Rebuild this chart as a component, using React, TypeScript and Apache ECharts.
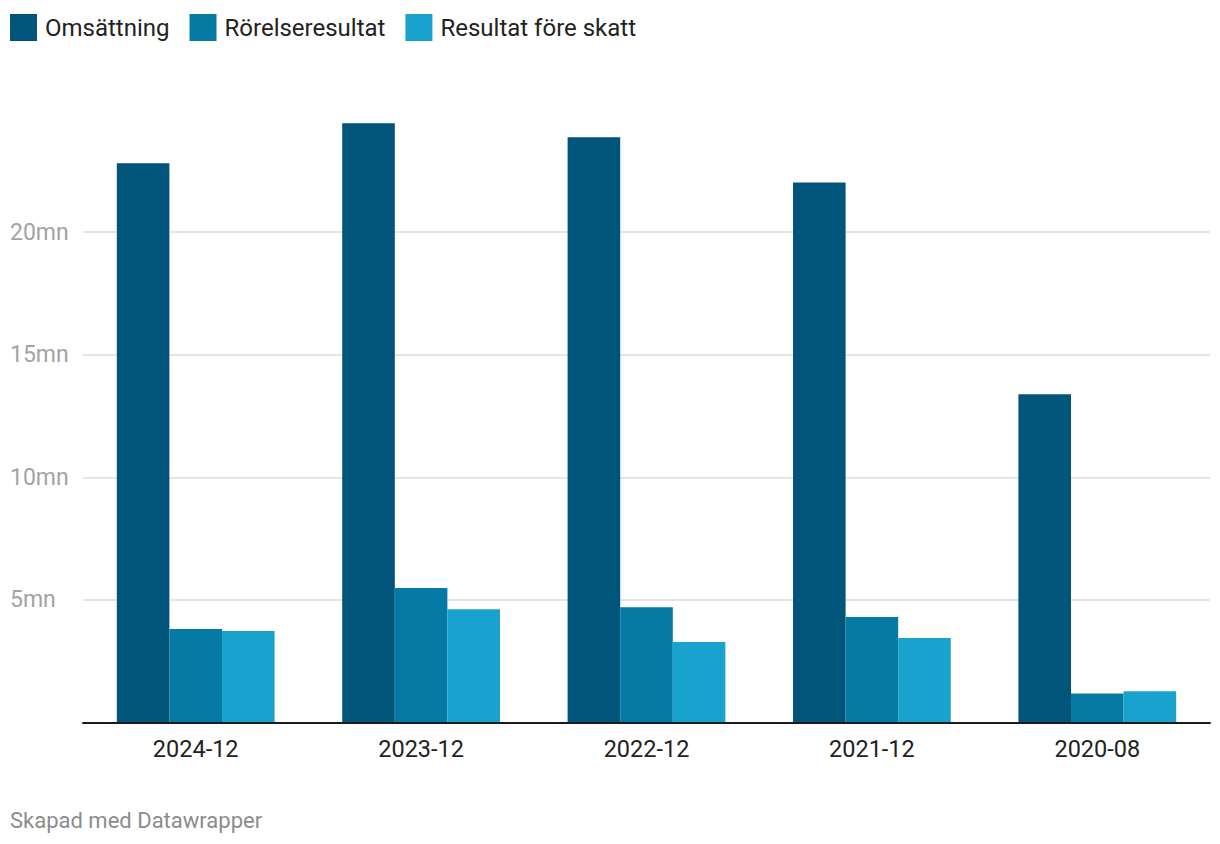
import React, { useEffect, useRef } from "react";
import * as echarts from "echarts";

const categories = ["2024-12", "2023-12", "2022-12", "2021-12", "2020-08"];
const omsattning = [22.82, 24.45, 23.88, 22.03, 13.39];
const rorelseresultat = [3.81, 5.48, 4.7, 4.3, 1.18];
const resultatForeSkatt = [3.73, 4.62, 3.28, 3.44, 1.27];
const seriesNames = ["Omsättning", "Rörelseresultat", "Resultat före skatt"];
const colors = ["#01547a", "#047aa4", "#1aa2cf"];

const FONT = "Roboto, 'Noto Sans', sans-serif";

export default function App() {
  const ref = useRef<HTMLDivElement>(null);
  useEffect(() => {
    if (!ref.current) return;
    const chart = echarts.init(ref.current, undefined, { renderer: "svg" });
    const data = [omsattning, rorelseresultat, resultatForeSkatt];
    chart.setOption({
      animation: false,
      backgroundColor: "#ffffff",
      textStyle: { fontFamily: FONT },
      legend: {
        left: 10,
        top: 14,
        padding: 0,
        icon: "rect",
        itemWidth: 27,
        itemHeight: 27,
        itemGap: 20,
        selectedMode: false,
        textStyle: {
          fontFamily: FONT,
          fontSize: 24,
          color: "#222222",
          padding: [0, 0, 0, 3],
        },
        data: seriesNames,
      },
      grid: {
        left: 83,
        right: 10,
        top: 109.7,
        bottom: 121.6,
        containLabel: false,
      },
      xAxis: {
        type: "category",
        data: categories,
        axisLine: { show: true, lineStyle: { color: "#1a1a1a", width: 2 } },
        axisTick: { show: false },
        axisLabel: {
          fontFamily: FONT,
          fontSize: 23.5,
          color: "#222222",
          margin: 15,
        },
        z: 10,
      },
      yAxis: {
        type: "value",
        min: 0,
        max: 25,
        interval: 5,
        axisLine: { show: false },
        axisTick: { show: false },
        splitLine: {
          show: true,
          showMinLine: false,
          showMaxLine: false,
          lineStyle: { color: "#e5e5e5", width: 2 },
        },
        axisLabel: {
          showMinLabel: false,
          showMaxLabel: false,
          fontFamily: FONT,
          fontSize: 23,
          color: "#a3a3a3",
          align: "left",
          margin: 73,
          formatter: (v: number) => `${v}mn`,
        },
      },
      series: seriesNames.map((name, i) => ({
        name,
        type: "bar",
        data: data[i],
        itemStyle: { color: colors[i] },
        barGap: "0%",
        barCategoryGap: "30%",
        z: 5,
      })),
      graphic: [
        {
          type: "text",
          left: 10,
          top: 809,
          style: {
            text: "Skapad med Datawrapper",
            fontFamily: FONT,
            fontSize: 22,
            fill: "#8c8c8c",
          },
        },
      ],
    });
    return () => chart.dispose();
  }, []);
  return (
    <div
      ref={ref}
      style={{ position: "fixed", left: 0, top: 0, width: 1220, height: 844 }}
    />
  );
}
